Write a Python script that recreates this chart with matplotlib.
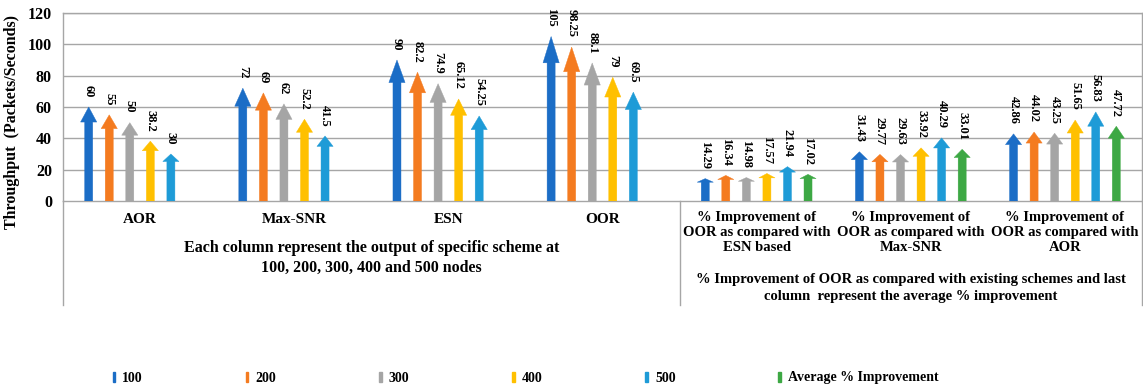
import matplotlib
matplotlib.use("Agg")
import matplotlib.pyplot as plt
from matplotlib.patches import FancyArrow, Patch

# ---------------- data ----------------
categories = ["AOR", "Max-SNR", "ESN", "OOR",
              "% Improvement of\nOOR as compared with\nESN based",
              "% Improvement of\nOOR as compared with\nMax-SNR",
              "% Improvement of\nOOR as compared with\nAOR"]
series_names = ["100", "200", "300", "400", "500", "Average % Improvement"]

s100 = [60, 72, 90, 105, 14.29, 31.43, 42.86]
s200 = [55, 69, 82.2, 98.25, 16.34, 29.77, 44.02]
s300 = [50, 62, 74.9, 88.1, 14.98, 29.63, 43.25]
s400 = [38.2, 52.2, 65.12, 79, 17.57, 33.92, 51.65]
s500 = [30, 41.5, 54.25, 69.5, 21.94, 40.29, 56.83]
savg = [None, None, None, None, 17.02, 33.01, 47.72]
labels_txt = {
    0: ["60", "72", "90", "105", "14.29", "31.43", "42.86"],
    1: ["55", "69", "82.2", "98.25", "16.34", "29.77", "44.02"],
    2: ["50", "62", "74.9", "88.1", "14.98", "29.63", "43.25"],
    3: ["38.2", "52.2", "65.12", "79", "17.57", "33.92", "51.65"],
    4: ["30", "41.5", "54.25", "69.5", "21.94", "40.29", "56.83"],
    5: [None, None, None, None, "17.02", "33.01", "47.72"],
}
group_note_left = "Each column represent the output of specific scheme at\n100, 200, 300, 400 and 500 nodes"
group_note_right = ("% Improvement of OOR as compared with existing schemes and last\n"
                    "column  represent the average % improvement")
y_ticks = [0, 20, 40, 60, 80, 100, 120]
y_label = "Throughput  (Packets/Seconds)"

# ---------------- style ----------------
colors = ["#1B6DC6", "#F47B20", "#A5A5A5", "#FFC000", "#1E9BD7", "#3DA844"]
SERIF = ["Liberation Serif", "DejaVu Serif"]
plt.rcParams["font.family"] = SERIF

W, H = 1143, 390
fig = plt.figure(figsize=(W / 100, H / 100), dpi=100)
ax_left, ax_right, ax_top, ax_bottom = 63, 1142, 13, 201
ax = fig.add_axes([ax_left / W, 1 - ax_bottom / H, (ax_right - ax_left) / W, (ax_bottom - ax_top) / H])
ax.set_xlim(-0.5, len(categories) - 0.5)
ax.set_ylim(0, 120)

grid_c = "#A6A6A6"
for yv in y_ticks[1:]:
    ax.axhline(yv, color=grid_c, lw=1.0, zorder=0)
for sp in ax.spines.values():
    sp.set_color(grid_c)
    sp.set_linewidth(1.0)
ax.set_xticks([])
ax.set_yticks(y_ticks)
ax.set_yticklabels([str(t) for t in y_ticks], fontsize=11.5, fontweight="bold")
ax.tick_params(axis="y", length=0, pad=8)
ax.set_ylabel(y_label, fontsize=11.5, fontweight="bold")


def yf(px):
    return (ax_bottom - px) / (ax_bottom - ax_top)


ax.yaxis.set_label_coords((20 - ax_left) / (ax_right - ax_left), yf(122))

all_series = [s100, s200, s300, s400, s500, savg]
slot = 1 / 7.5
shaft_w = 0.052
head_w = 0.105
for j, ser in enumerate(all_series):
    for i, v in enumerate(ser):
        if v is None:
            continue
        x = i + (j - 2.5) * slot
        arr = FancyArrow(x, 0, 0, v, width=shaft_w, head_width=head_w,
                         head_length=0.16 * v, length_includes_head=True,
                         color=colors[j], ec=colors[j], lw=0.3, zorder=3)
        ax.add_patch(arr)
        lbl = labels_txt[j][i]
        ax.annotate(lbl, (x, v), xytext=(0, 7), textcoords="offset points",
                    rotation=-90, ha="center", va="bottom", fontsize=9,
                    fontweight="bold", zorder=4)

# ---------------- category label area ----------------
xt = ax.get_xaxis_transform()
for xv in (-0.5, 3.5, len(categories) - 0.5):
    ax.plot([xv, xv], [0, yf(305)], transform=xt, color=grid_c, lw=1.0, clip_on=False)

for i, c in enumerate(categories[:4]):
    ax.text(i, yf(220), c, transform=xt, ha="center", va="center",
            fontsize=11, fontweight="bold")
for i, c in enumerate(categories[4:], start=4):
    ax.text(i, yf(233), c, transform=xt, ha="center", va="center",
            fontsize=10.5, fontweight="bold", linespacing=1.2)
ax.text(1.5, yf(258), group_note_left, transform=xt, ha="center", va="center",
        fontsize=11.5, fontweight="bold", linespacing=1.3)
ax.text(5, yf(288), group_note_right, transform=xt, ha="center", va="center",
        fontsize=10.5, fontweight="bold", linespacing=1.35)

# ---------------- legend ----------------
handles = [Patch(facecolor=colors[k], edgecolor=colors[k]) for k in range(len(series_names))]
fig.legend(handles, series_names, loc="center left", bbox_to_anchor=(100 / W, 1 - 378 / H),
           ncol=6, frameon=False, handlelength=0.2, handleheight=0.7, handletextpad=0.5,
           columnspacing=7.4, prop={"family": SERIF, "weight": "bold", "size": 10})

fig.savefig("out.png", dpi=100)
